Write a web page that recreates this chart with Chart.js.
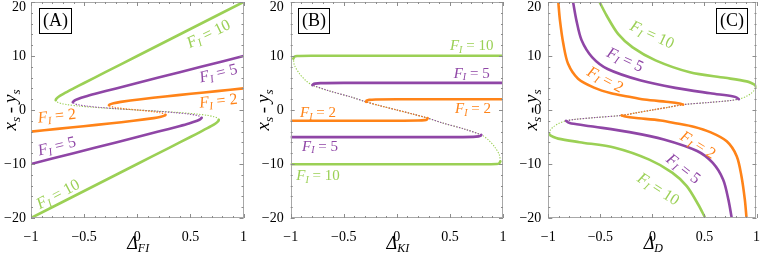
<!DOCTYPE html>
<html>
<head>
<meta charset="utf-8">
<script src="https://cdn.jsdelivr.net/npm/chart.js@4.4.1/dist/chart.umd.min.js"></script>
<style>
html, body { margin: 0; padding: 0; background: #fff; }
#wrap { position: relative; width: 763px; height: 253px; overflow: hidden; }
canvas { position: absolute; top: 0; }
</style>
</head>
<body>
<div id="wrap">
  <canvas id="pa" width="250" height="253" style="left:0px"></canvas>
  <canvas id="pb" width="260" height="253" style="left:250px"></canvas>
  <canvas id="pc" width="253" height="253" style="left:510px"></canvas>
</div>
<script>
// F_I values of the three curves (orange, purple, green)
const fLevels = [2, 5, 10];
const xTicks = [-1, -0.5, 0, 0.5, 1];
const yTicks = [-20, -10, 0, 10, 20];

// each curve is [delta, xs-ys], lower stable branch first,
// then the unstable part, then the upper stable branch
const aOrange = [[-1,-4],[-0.752,-3.5],[-0.505,-3],[-0.263,-2.5],[-0.036,-2],[0.155,-1.5],[0.223,-1.25],[0.262,-1],[0.266,-0.88],
  [0.26,-0.75],[0.212,-0.5],[0.12,-0.25],[0,0],[-0.12,0.25],[-0.212,0.5],[-0.26,0.75],[-0.266,0.88],
  [-0.262,1],[-0.223,1.25],[-0.155,1.5],[0.036,2],[0.263,2.5],[0.505,3],[0.752,3.5],[1,4]];
const aPurple = [[-1,-10],[-0.6,-8],[-0.2,-6],[0,-5],[0.199,-4],[0.395,-3],[0.487,-2.5],[0.564,-2],[0.591,-1.75],[0.606,-1.44],
  [0.594,-1.2],[0.562,-1],[0.485,-0.75],[0.362,-0.5],[0.195,-0.25],[0,0],[-0.195,0.25],[-0.362,0.5],[-0.485,0.75],[-0.562,1],[-0.594,1.2],[-0.606,1.44],
  [-0.591,1.75],[-0.564,2],[-0.487,2.5],[-0.395,3],[-0.199,4],[0,5],[0.2,6],[0.6,8],[1,10]];
const aGreen = [[-1,-20],[-0.5,-15],[0,-10],[0.3,-7],[0.5,-5],[0.599,-4],[0.695,-3],[0.737,-2.5],[0.764,-2],[0.767,-1.82],
  [0.755,-1.5],[0.714,-1.2],[0.662,-1],[0.56,-0.75],[0.412,-0.5],[0.22,-0.25],[0,0],[-0.22,0.25],[-0.412,0.5],[-0.56,0.75],[-0.662,1],[-0.714,1.2],[-0.755,1.5],[-0.767,1.82],
  [-0.764,2],[-0.737,2.5],[-0.695,3],[-0.599,4],[-0.5,5],[-0.3,7],[0,10],[0.5,15],[1,20]];
const aTurns = [[8,16],[9,21],[9,23]];

const bOrange = [[-1,-2],[0,-1.98],[0.2,-1.95],[0.26,-1.88],[0.285,-1.72],[0.29,-1.5],
  [0.15,-0.75],[0,0],[-0.15,0.75],[-0.29,1.5],
  [-0.285,1.72],[-0.26,1.88],[-0.2,1.95],[0,1.98],[1,2]];
const bPurple = [[-1,-5.03],[0.5,-5.02],[0.72,-4.97],[0.77,-4.88],[0.79,-4.75],[0.795,-4.6],
  [0.64,-3.55],[0.43,-2.4],[0.29,-1.5],[0.15,-0.75],[0,0],[-0.15,0.75],[-0.29,1.5],[-0.43,2.4],[-0.64,3.55],[-0.795,4.6],
  [-0.79,4.75],[-0.77,4.88],[-0.72,4.97],[-0.5,5.02],[1,5.03]];
const bGreen = [[-1,-10.05],[0.8,-10.05],[0.94,-10],[0.965,-9.85],[0.975,-9.5],
  [0.965,-8.3],[0.92,-6.8],[0.86,-5.5],[0.795,-4.6],[0.64,-3.55],[0.43,-2.4],[0.29,-1.5],[0.15,-0.75],[0,0],[-0.15,0.75],[-0.29,1.5],[-0.43,2.4],[-0.64,3.55],[-0.795,4.6],[-0.86,5.5],[-0.92,6.8],[-0.965,8.3],[-0.975,9.5],
  [-0.965,9.85],[-0.94,10],[-0.8,10.05],[1,10.05]];
const bTurns = [[5,9],[5,15],[4,22]];

const cOrange = [[0.904,-20],[0.888,-16.6],[0.856,-12.3],[0.81,-8.55],[0.714,-5.8],[0.555,-4.1],[0.396,-3.1],[0.238,-2.5],[0.079,-1.94],[-0.175,-1.45],[-0.26,-1.2],[-0.295,-1],
  [-0.15,-0.5],[0,0],[0.15,0.5],[0.295,1],
  [0.26,1.2],[0.175,1.45],[-0.079,1.94],[-0.238,2.5],[-0.396,3.1],[-0.555,4.1],[-0.714,5.8],[-0.81,8.55],[-0.856,12.3],[-0.888,16.6],[-0.904,20]];
const cPurple = [[0.762,-20],[0.73,-16.6],[0.68,-12.9],[0.58,-9.8],[0.43,-7.6],[0.11,-5.46],[-0.22,-4.1],[-0.556,-3.1],[-0.778,-2.5],[-0.81,-2.3],[-0.83,-2],
  [-0.75,-1.75],[-0.55,-1.4],[-0.295,-1],[-0.15,-0.5],[0,0],[0.15,0.5],[0.295,1],[0.55,1.4],[0.75,1.75],[0.83,2],
  [0.81,2.3],[0.778,2.5],[0.556,3.1],[0.22,4.1],[-0.11,5.46],[-0.43,7.6],[-0.58,9.8],[-0.68,12.9],[-0.73,16.6],[-0.762,20]];
const cGreen = [[0.508,-20],[0.44,-17.5],[0.33,-14.1],[0.19,-11.6],[-0.03,-9.2],[-0.36,-7],[-0.7,-5.96],[-0.905,-5.3],[-0.95,-5],[-0.985,-4.65],[-0.995,-4.3],
  [-0.98,-3.7],[-0.95,-3.1],[-0.9,-2.5],[-0.83,-2],[-0.75,-1.75],[-0.55,-1.4],[-0.295,-1],[-0.15,-0.5],[0,0],[0.15,0.5],[0.295,1],[0.55,1.4],[0.75,1.75],[0.83,2],[0.9,2.5],[0.95,3.1],[0.98,3.7],[0.995,4.3],
  [0.985,4.65],[0.95,5],[0.905,5.3],[0.7,5.96],[0.36,7],[0.03,9.2],[-0.19,11.6],[-0.33,14.1],[-0.44,17.5],[-0.508,20]];
const cTurns = [[11,15],[10,20],[10,28]];

const SERIF = '"Liberation Serif", "DejaVu Serif", serif';
const colors = ['#ff8318', '#8f46a6', '#9bd055'];
const FRAME = '#a8a8a8';

// draw text made of pieces: 'r' roman, 'i' italic, 'is' italic subscript
function rich(ctx, parts, cx, cy, rot, size, color) {
    ctx.save();
    ctx.translate(cx, cy);
    ctx.rotate(rot * Math.PI / 180);
    ctx.fillStyle = color;
    ctx.textAlign = 'left';
    ctx.textBaseline = 'alphabetic';
    const fontOf = st => (st.includes('i') ? 'italic ' : '') + (st.includes('s') ? Math.round(size * 0.68) : size) + 'px ' + SERIF;
    let w = 0;
    parts.forEach(([t, st]) => { ctx.font = fontOf(st); w += ctx.measureText(t).width; });
    let xx = -w / 2;
    parts.forEach(([t, st]) => {
        ctx.font = fontOf(st);
        ctx.fillText(t, xx, size * 0.33 + (st.includes('s') ? size * 0.17 : 0));
        xx += ctx.measureText(t).width;
    });
    ctx.restore();
}

const fmt = v => v < 0 ? '\u2212' + Math.abs(v) : String(v);

const panelDeco = {
    id: 'panelDeco',
    afterDatasetsDraw(chart, args, o) {
        const { ctx, chartArea: a, scales: { x, y } } = chart;
        ctx.save();
        // frame
        ctx.strokeStyle = FRAME;
        ctx.lineWidth = 1;
        ctx.strokeRect(Math.round(a.left) + 0.5, Math.round(a.top) + 0.5, Math.round(a.right - a.left) - 1, Math.round(a.bottom - a.top) - 1);
        // inward ticks on all sides
        ctx.strokeStyle = '#8c8c8c';
        ctx.beginPath();
        for (let k = -10; k <= 10; k++) {
            const px = Math.round(x.getPixelForValue(k / 10)) + 0.5;
            const len = k % 5 === 0 ? 4 : 2;
            ctx.moveTo(px, a.bottom); ctx.lineTo(px, a.bottom - len);
            ctx.moveTo(px, a.top); ctx.lineTo(px, a.top + len);
            const py = Math.round(y.getPixelForValue(2 * k)) + 0.5;
            const ly = k % 5 === 0 ? 4 : 2;
            ctx.moveTo(a.left, py); ctx.lineTo(a.left + ly, py);
            ctx.moveTo(a.right, py); ctx.lineTo(a.right - ly, py);
        }
        ctx.stroke();
        // y tick labels
        ctx.fillStyle = '#000';
        ctx.font = '14px ' + SERIF;
        ctx.textAlign = 'right';
        ctx.textBaseline = 'middle';
        yTicks.forEach(v => {
            const py = Math.max(y.getPixelForValue(v), a.top + 5.5);
            ctx.fillText(fmt(v), a.left - o.yPad, py);
        });
        // curve labels
        o.labels.forEach(([fi, lx, ly, rot]) => {
            rich(ctx, [['F', 'i'], ['I', 'is'], [' = ' + fLevels[fi], 'r']],
                x.getPixelForValue(lx), y.getPixelForValue(ly), rot, o.labelSize, colors[fi]);
        });
        // axis titles
        rich(ctx, o.xTitle, (a.left + a.right) / 2 + 1, 243, 0, 18, '#000');
        rich(ctx, [['x', 'i'], ['s', 'is'], ['\u2009-\u2009', 'r'], ['y', 'i'], ['s', 'is']], o.yTitleX, (a.top + a.bottom) / 2, -90, 19, '#000');
        // panel tag
        ctx.font = '18px ' + SERIF;
        const tw = ctx.measureText(o.tag).width;
        const bw = Math.round(tw + 7), bh = 25;
        const bx = o.tagRight ? Math.round(a.right - o.tagDx - bw) : Math.round(a.left + o.tagDx);
        const by = Math.round(a.top + 6);
        ctx.fillStyle = '#fff';
        ctx.fillRect(bx, by, bw, bh);
        ctx.strokeStyle = '#000';
        ctx.lineWidth = 1;
        ctx.strokeRect(bx + 0.5, by + 0.5, bw, bh);
        ctx.fillStyle = '#000';
        ctx.textAlign = 'center';
        ctx.textBaseline = 'middle';
        ctx.fillText(o.tag, bx + bw / 2 + 0.5, by + bh / 2 + 1);
        ctx.restore();
    }
};

function makePanel(id, curves, turns, opt) {
    const datasets = [];
    const toXY = arr => arr.map(p => ({ x: p[0], y: p[1] }));
    curves.forEach((pts, i) => {
        const [t1, t2] = turns[i];
        const solid = { borderColor: colors[i], borderWidth: 2.6, borderCapStyle: 'round', tension: 0.3, pointRadius: 0, showLine: true };
        const dotted = { borderColor: colors[i], borderWidth: 1.1, borderDash: [1.3, 1.5], tension: 0.3, pointRadius: 0, showLine: true };
        datasets.push(Object.assign({ data: toXY(pts.slice(0, t1 + 1)) }, solid));
        datasets.push(Object.assign({ data: toXY(pts.slice(t1, t2 + 1)) }, dotted));
        datasets.push(Object.assign({ data: toXY(pts.slice(t2)) }, solid));
    });
    return new Chart(document.getElementById(id), {
        type: 'scatter',
        data: { datasets },
        options: {
            responsive: false,
            animation: false,
            devicePixelRatio: 1,
            events: [],
            layout: { padding: { top: 2, right: opt.padRight, left: 0, bottom: 0 } },
            plugins: { legend: { display: false }, tooltip: { enabled: false }, panelDeco: opt },
            scales: {
                x: {
                    type: 'linear', min: -1, max: 1,
                    grid: { display: false }, border: { display: false },
                    afterBuildTicks: s => { s.ticks = xTicks.map(v => ({ value: v })); },
                    ticks: { padding: 3, color: '#000', font: { family: SERIF, size: 14 }, maxRotation: 0, autoSkip: false, callback: fmt },
                    afterFit: s => { s.height = 35; }
                },
                y: {
                    type: 'linear', min: -20, max: 20,
                    grid: { display: false }, border: { display: false },
                    ticks: { display: false },
                    afterFit: s => { s.width = opt.yWidth; }
                }
            }
        },
        plugins: [panelDeco]
    });
}

makePanel('pa', [aOrange, aPurple, aGreen], aTurns, {
    yWidth: 31, padRight: 4.5, yPad: 5, yTitleX: 10, tag: '(A)', tagDx: 8, labelSize: 16,
    xTitle: [['\u0394', 'i'], ['FI', 'is']],
    labels: [[2, 0.669, 14.2, -26], [1, 0.762, 6.9, -14], [0, 0.762, 1.76, -6],
             [0, -0.758, -1.0, -6], [1, -0.758, -6.6, -14], [2, -0.748, -15.5, -28]]
});
makePanel('pb', [bOrange, bPurple, bGreen], bTurns, {
    yWidth: 40.7, padRight: 7, yPad: 7, yTitleX: 13, tag: '(B)', tagDx: 7, labelSize: 15,
    xTitle: [['\u0394', 'i'], ['KI', 'is']],
    labels: [[2, 0.705, 12.0, 0], [1, 0.705, 6.9, 0], [0, 0.717, 0.28, 0],
             [0, -0.743, -0.46, 0], [1, -0.724, -6.6, 0], [2, -0.743, -12.1, 0]]
});
makePanel('pc', [cOrange, cPurple, cGreen], cTurns, {
    yWidth: 38.3, padRight: 4.7, yPad: 7, yTitleX: 21, tag: '(C)', tagDx: 10, tagRight: true, labelSize: 16,
    xTitle: [['\u0394', 'i'], ['D', 'is']],
    labels: [[2, 0.0, 14.0, 25], [1, -0.26, 9.4, 25], [0, -0.45, 5.7, 28],
             [0, 0.44, -6.4, 32], [1, 0.30, -10.8, 38], [2, 0.06, -14.6, 33]]
});
</script>
</body>
</html>
